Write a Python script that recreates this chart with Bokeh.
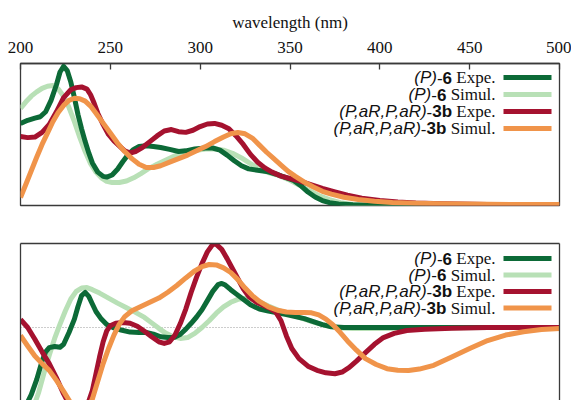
from bokeh.plotting import figure
from bokeh.layouts import column
from bokeh.models import Range1d, LinearAxis, FixedTicker, Span, ColumnDataSource
from bokeh.core.properties import field
from bokeh.embed import file_html
from bokeh.resources import INLINE

# ---------------- data ----------------
# Absorption (top panel), arbitrary units
abs_p6_expe_wl = [200, 204, 208, 211, 214, 217, 220, 222, 224, 226, 228, 230, 232, 234, 236, 238, 240, 243,
                  246, 248, 251, 254, 257, 260, 263, 266, 270, 274, 278, 283, 288, 292, 297, 303, 307, 311,
                  315, 319, 323, 327, 332, 337, 342, 347, 352, 356, 360, 364, 368, 372, 377, 385, 400, 500]
abs_p6_expe = [0.577, 0.60, 0.615, 0.625, 0.66, 0.74, 0.85, 0.94, 0.98, 0.95, 0.87, 0.76, 0.64, 0.54, 0.45,
               0.37, 0.30, 0.235, 0.205, 0.20, 0.215, 0.255, 0.31, 0.36, 0.395, 0.415, 0.42, 0.415, 0.408,
               0.395, 0.38, 0.385, 0.398, 0.405, 0.405, 0.39, 0.355, 0.315, 0.28, 0.258, 0.248, 0.24, 0.222,
               0.20, 0.176, 0.14, 0.095, 0.06, 0.035, 0.02, 0.01, 0.005, 0.003, 0.0]

abs_p6_simu_wl = [200, 203, 206, 209, 212, 215, 218, 221, 224, 227, 230, 233, 236, 239, 242, 245, 248, 251,
                  255, 259, 263, 267, 271, 276, 281, 286, 291, 297, 303, 308, 313, 318, 323, 328, 333, 338,
                  344, 350, 355, 360, 366, 372, 378, 385, 395, 500]
abs_p6_simu = [0.683, 0.73, 0.77, 0.80, 0.825, 0.84, 0.845, 0.82, 0.77, 0.69, 0.59, 0.48, 0.38, 0.295, 0.235,
               0.195, 0.17, 0.162, 0.162, 0.172, 0.195, 0.225, 0.258, 0.29, 0.32, 0.35, 0.372, 0.387, 0.398,
               0.40, 0.39, 0.368, 0.335, 0.295, 0.257, 0.232, 0.21, 0.178, 0.145, 0.11, 0.07, 0.042, 0.02,
               0.007, 0.0, 0.0]

abs_3b_expe_wl = [200, 204, 208, 212, 216, 220, 224, 228, 231, 234, 237, 239, 241, 243, 246, 249, 252, 255,
                  258, 261, 264, 268, 272, 276, 280, 284, 288, 292, 296, 300, 304, 308, 312, 316, 320, 324,
                  328, 332, 336, 340, 345, 350, 356, 362, 368, 375, 382, 390, 400, 410, 420, 435, 460, 500]
abs_3b_expe = [0.486, 0.478, 0.482, 0.515, 0.57, 0.66, 0.76, 0.815, 0.83, 0.835, 0.82, 0.78, 0.72, 0.65,
               0.57, 0.50, 0.455, 0.42, 0.385, 0.37, 0.38, 0.41, 0.45, 0.49, 0.525, 0.535, 0.52, 0.515, 0.53,
               0.556, 0.574, 0.578, 0.565, 0.54, 0.49, 0.43, 0.36, 0.305, 0.265, 0.235, 0.207, 0.19, 0.17,
               0.145, 0.12, 0.095, 0.072, 0.052, 0.036, 0.025, 0.018, 0.012, 0.007, 0.007]

abs_3b_simu_wl = [200, 203, 206, 209, 212, 215, 218, 221, 224, 227, 230, 233, 236, 239, 242, 246, 250, 254,
                  258, 262, 266, 270, 274, 278, 283, 288, 293, 298, 303, 308, 313, 317, 321, 325, 329, 333,
                  337, 341, 345, 349, 353, 358, 363, 368, 373, 380, 388, 397, 407, 420, 435, 460, 500]
abs_3b_simu = [0.056, 0.15, 0.245, 0.34, 0.43, 0.51, 0.59, 0.655, 0.705, 0.74, 0.755, 0.752, 0.735, 0.70,
               0.65, 0.58, 0.51, 0.44, 0.38, 0.33, 0.29, 0.268, 0.268, 0.28, 0.305, 0.33, 0.355, 0.385, 0.415,
               0.45, 0.482, 0.505, 0.514, 0.505, 0.475, 0.425, 0.375, 0.33, 0.285, 0.24, 0.205, 0.165, 0.13,
               0.10, 0.08, 0.058, 0.042, 0.03, 0.021, 0.016, 0.013, 0.008, 0.007]

# ECD (bottom panel), arbitrary units
cd_p6_expe_wl = [200, 203, 206, 209, 212, 214, 216, 219, 222, 224, 227, 230, 232, 234, 236, 238, 240, 242,
                 245, 248, 252, 256, 261, 266, 270, 274, 278, 282, 286, 289, 292, 295, 298, 301, 304, 307,
                 310, 312, 314, 317, 320, 324, 328, 333, 338, 343, 348, 353, 358, 363, 368, 373, 380, 400, 500]
cd_p6_expe = [-1.01, -0.93, -0.80, -0.62, -0.40, -0.29, -0.24, -0.226, -0.235, -0.20, -0.06, 0.10, 0.25,
              0.38, 0.417, 0.37, 0.28, 0.19, 0.10, 0.035, -0.005, -0.03, -0.055, -0.06, -0.06, -0.08, -0.11,
              -0.12, -0.115, -0.08, -0.02, 0.05, 0.125, 0.21, 0.32, 0.43, 0.51, 0.525, 0.505, 0.45, 0.40,
              0.335, 0.27, 0.22, 0.195, 0.175, 0.155, 0.13, 0.105, 0.07, 0.035, 0.008, 0.0, 0.0, 0.0]

cd_p6_simu_wl = [200, 202, 204, 207, 210, 213, 216, 219, 222, 225, 228, 231, 234, 237, 240, 244, 249, 254,
                 259, 264, 269, 273, 277, 281, 285, 289, 293, 297, 301, 305, 309, 313, 317, 321, 325, 329,
                 333, 338, 343, 348, 353, 358, 363, 368, 373, 378, 385, 400, 430, 460, 500]
cd_p6_simu = [-0.905, -1.0, -1.02, -0.96, -0.78, -0.55, -0.33, -0.13, 0.04, 0.2, 0.34, 0.43, 0.47, 0.475,
              0.45, 0.41, 0.35, 0.29, 0.235, 0.18, 0.12, 0.055, -0.01, -0.07, -0.11, -0.13, -0.12, -0.07,
              0.0, 0.08, 0.17, 0.245, 0.30, 0.335, 0.348, 0.34, 0.305, 0.255, 0.21, 0.17, 0.135, 0.1, 0.065,
              0.035, 0.012, -0.005, -0.012, -0.012, -0.006, 0.0, 0.0]

cd_3b_expe_wl = [200, 204, 208, 212, 216, 220, 224, 228, 231, 234, 237, 240, 242, 244, 246, 248, 250, 253,
                 257, 261, 265, 269, 273, 277, 280, 283, 286, 289, 292, 295, 298, 301, 304, 307, 309, 312,
                 315, 318, 321, 324, 327, 331, 335, 339, 342, 345, 348, 351, 355, 360, 365, 370, 375, 379,
                 383, 387, 392, 397, 402, 408, 415, 425, 440, 460, 500]
cd_3b_expe = [0.095, 0.0, -0.14, -0.29, -0.43, -0.6, -0.79, -0.95, -1.02, -1.02, -0.94, -0.75, -0.55, -0.35,
              -0.17, -0.04, 0.02, 0.05, 0.06, 0.05, 0.015, -0.045, -0.11, -0.17, -0.19, -0.17, -0.09, 0.05,
              0.22, 0.42, 0.6, 0.76, 0.9, 0.99, 0.99, 0.93, 0.82, 0.7, 0.58, 0.46, 0.37, 0.305, 0.265, 0.225,
              0.185, 0.08, -0.1, -0.25, -0.37, -0.46, -0.51, -0.54, -0.55, -0.53, -0.476, -0.4, -0.3, -0.2,
              -0.12, -0.07, -0.036, -0.02, -0.01, 0.0, 0.0]

cd_3b_simu_wl = [200, 204, 208, 212, 216, 220, 224, 228, 231, 234, 237, 240, 243, 246, 249, 252, 255, 258,
                 262, 267, 272, 277, 282, 287, 292, 297, 301, 305, 309, 313, 317, 321, 325, 329, 333, 338,
                 343, 348, 353, 358, 362, 366, 370, 374, 378, 382, 387, 392, 398, 404, 410, 416, 422, 430,
                 440, 450, 460, 470, 480, 490, 500]
cd_3b_simu = [-0.095, -0.22, -0.34, -0.43, -0.51, -0.63, -0.76, -0.9, -0.99, -1.02, -0.98, -0.85, -0.64,
              -0.43, -0.25, -0.09, 0.04, 0.13, 0.2, 0.25, 0.3, 0.35, 0.42, 0.5, 0.59, 0.675, 0.725, 0.75,
              0.745, 0.71, 0.655, 0.57, 0.47, 0.38, 0.31, 0.245, 0.205, 0.185, 0.178, 0.178, 0.175, 0.15,
              0.1, 0.03, -0.06, -0.16, -0.27, -0.37, -0.44, -0.49, -0.51, -0.512, -0.495, -0.45, -0.35,
              -0.25, -0.155, -0.09, -0.05, -0.025, -0.012]

x_ticks = [200, 250, 300, 350, 400, 450, 500]
legend_italic = ["(P)", "(P)", "(P,aR,P,aR)", "(P,aR,P,aR)"]
legend_bold = ["6", "6", "3b", "3b"]
legend_suffix = ["Expe.", "Simul.", "Expe.", "Simul."]
colors = ["#0c6a37", "#b8e0b6", "#a5122f", "#f0944a"]

# ---------------- geometry (picture coordinates) ----------------
W = 571
FRAME_L, FRAME_R = 20, 559
X_MIN, X_MAX = 200, 500
TOP_FRAME_TOP, TOP_FRAME_BOT = 63, 205
BOT_FRAME_TOP, BOT_FRAME_BOT = 243, 400
BOT_ZERO = 327
H1 = 224
H2 = BOT_FRAME_BOT - H1


def px_x(px):
    return X_MIN + (px - FRAME_L) * (X_MAX - X_MIN) / (FRAME_R - FRAME_L)


top_scale = TOP_FRAME_BOT - TOP_FRAME_TOP
bot_scale = BOT_ZERO - BOT_FRAME_TOP


def top_y(py):
    return (TOP_FRAME_BOT - py) / top_scale


def bot_y(py):
    return (BOT_ZERO - py) / bot_scale


SERIF = "Liberation Serif"
SANS = "Liberation Sans"
FS = 17
BORDER = "#3a3a3a"
LW = 5

p1 = figure(width=W, height=H1, x_range=Range1d(X_MIN, X_MAX), y_range=Range1d(0, 1),
            output_backend="svg", toolbar_location=None, x_axis_location="above",
            y_axis_location=None, min_border_left=FRAME_L, min_border_right=W - FRAME_R,
            min_border_top=TOP_FRAME_TOP, min_border_bottom=H1 - TOP_FRAME_BOT)
p1.grid.visible = False
p1.outline_line_color = BORDER
p1.outline_line_width = 1.3
ax = p1.xaxis[0]
ax.ticker = FixedTicker(ticks=x_ticks)
ax.axis_label = "wavelength (nm)"
ax.axis_label_text_font = SERIF
ax.axis_label_text_font_size = f"{FS}px"
ax.axis_label_text_font_style = "normal"
ax.axis_label_text_color = "#111111"
ax.axis_label_standoff = 7
ax.major_label_text_font = SERIF
ax.major_label_text_font_size = f"{FS}px"
ax.major_label_text_color = "#111111"
ax.major_label_standoff = 11
ax.major_tick_in = 6
ax.major_tick_out = 0
ax.major_tick_line_color = BORDER
ax.major_tick_line_width = 1.3
ax.minor_tick_line_color = None
ax.axis_line_color = BORDER
ax.axis_line_width = 1.3

p2 = figure(width=W, height=H2, x_range=p1.x_range, y_range=Range1d(bot_y(BOT_FRAME_BOT), 1),
            output_backend="svg", toolbar_location=None, x_axis_location=None,
            y_axis_location=None, min_border_left=FRAME_L, min_border_right=W - FRAME_R,
            min_border_top=BOT_FRAME_TOP - H1, min_border_bottom=0)
p2.grid.visible = False
p2.outline_line_color = None
for side in ["left", "right", "above"]:
    a = LinearAxis(ticker=FixedTicker(ticks=[]), major_tick_line_color=None, minor_tick_line_color=None,
                   major_label_text_font_size="0px", axis_line_color=BORDER, axis_line_width=1.3,
                   major_tick_out=0, minor_tick_out=0, major_label_standoff=0)
    p2.add_layout(a, side)

p2.add_layout(Span(location=0, dimension="width", line_color="#9a9a9a", line_dash="1 2",
                   line_width=1, level="underlay"))

series_top = [(abs_p6_expe_wl, abs_p6_expe), (abs_p6_simu_wl, abs_p6_simu),
              (abs_3b_expe_wl, abs_3b_expe), (abs_3b_simu_wl, abs_3b_simu)]
series_bot = [(cd_p6_expe_wl, cd_p6_expe), (cd_p6_simu_wl, cd_p6_simu),
              (cd_3b_expe_wl, cd_3b_expe), (cd_3b_simu_wl, cd_3b_simu)]
for i in [1, 0, 2, 3]:
    xs, ys = series_top[i]
    p1.line(xs, ys, line_color=colors[i], line_width=LW, line_join="round")
for i in [1, 0, 2, 3]:
    xs, ys = series_bot[i]
    p2.line(xs, ys, line_color=colors[i], line_width=LW, line_join="round")

# ---------------- legends (mixed fonts, built piece by piece) ----------------
AR_I = {"(": 333, ")": 333, "P": 667, ",": 278, "a": 556, "R": 722}
AR_B = {"6": 556, "3": 556, "b": 611}
TM = {"E": 611, "x": 500, "p": 500, "e": 444, ".": 250, "S": 556, "i": 278, "m": 778, "u": 500, "l": 278}


def w(s, table):
    return sum(table[c] for c in s) * FS / 1000.0


TEXT_RIGHT = 495
SAMPLE_X0, SAMPLE_X1 = 503, 551


def add_legend(p, rows_px, conv):
    data = dict(x=[], y=[], text=[], font=[], style=[], xoff=[])
    for k in range(4):
        y = conv(rows_px[k])
        x = px_x(TEXT_RIGHT)
        suf = legend_suffix[k]
        off = 0.0
        pieces = [(suf, SERIF, "normal", w(suf, TM) + 250 * FS / 1000.0),
                  (legend_bold[k], SANS, "bold", w(legend_bold[k], AR_B)),
                  ("-", SANS, "normal", 333 * FS / 1000.0),
                  (legend_italic[k], SANS, "italic", w(legend_italic[k], AR_I))]
        for t, f, st, wd in pieces:
            data["x"].append(x)
            data["y"].append(y)
            data["text"].append(t)
            data["font"].append(f)
            data["style"].append(st)
            data["xoff"].append(-off)
            off += wd
        p.segment(x0=[px_x(SAMPLE_X0)], x1=[px_x(SAMPLE_X1)], y0=[y], y1=[y],
                  line_color=colors[k], line_width=LW)
    src = ColumnDataSource(data)
    p.text(x="x", y="y", text="text", source=src, text_font=field("font"),
           text_font_style=field("style"), x_offset="xoff", text_align="right",
           text_baseline="middle", text_font_size=f"{FS}px", text_color="#111111")


add_legend(p1, [77, 94, 111, 128], top_y)
add_legend(p2, [258, 274.5, 291, 307.5], bot_y)

layout = column(p1, p2)
open("out.html", "w").write(file_html(layout, INLINE))
